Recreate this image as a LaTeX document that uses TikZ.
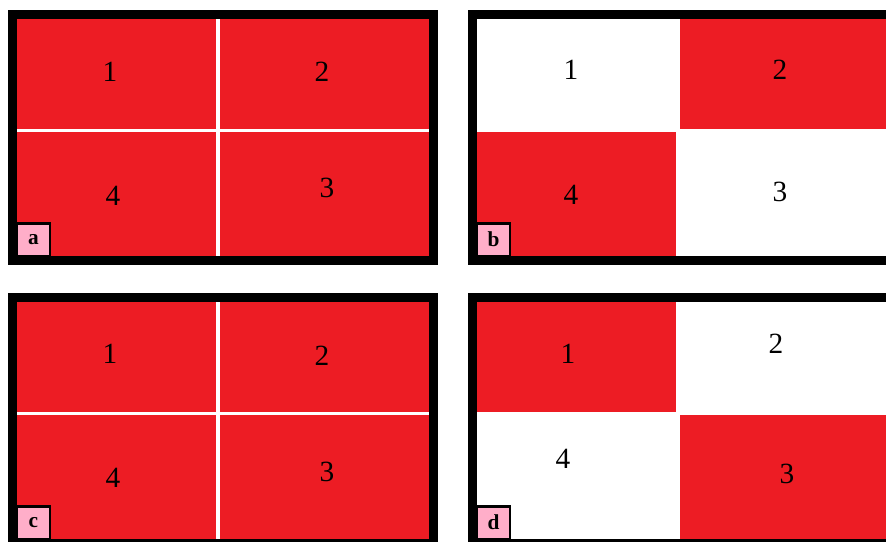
\documentclass[tikz,border=0pt]{standalone}
\usepackage{fontspec}
\setmainfont{Liberation Serif}
\definecolor{cellred}{RGB}{237,28,36}
\definecolor{tagpink}{RGB}{255,174,201}
\tikzset{
  px/.style={x=0.75pt,y=-0.75pt},
  cell/.style={fill=cellred},
  digit/.style={
    font=\fontsize{22}{26}\selectfont,
    inner sep=0pt
  },
  tagbox/.style={
    draw=black,
    line width=2.2pt,
    fill=tagpink,
    minimum size=24.75pt,
    inner sep=0pt,
    anchor=south west,
    font=\fontsize{16}{18}\selectfont\bfseries
  }
}
% #1,#2 = inner top-left corner of a panel
\newcommand{\panelframe}[2]{%
  \fill[black] ({#1-9},{#2-9}) rectangle ({#1+421},{#2+246});
  \fill[white] (#1,#2) rectangle ({#1+412},{#2+237});
}
\newcommand{\redcells}[3]{%
  \foreach \c/\r in {#3}
    \fill[cell] ({#1+\c*203},{#2+\r*113}) rectangle ({#1+199+\c*213},{#2+110+\r*127});
}
\newcommand{\paneltag}[4]{%
  \node[tagbox] (#3) at ({#1-1.5},{#2+238.5}) {#4};
}

\begin{document}
\begin{tikzpicture}[px]
  \useasboundingbox (0,0) rectangle (886,542);
  \clip (0,0) rectangle (886,542);
  % panel a
  \panelframe{17}{19}
  \redcells{17}{19}{0/0,1/0,0/1,1/1}
  \node[digit] (a1) at (110,72) {1};
  \node[digit] (a2) at (322,72) {2};
  \node[digit] (a4) at (113,196) {4};
  \node[digit] (a3) at (327,188) {3};
  \paneltag{17}{19}{taga}{a}
  % panel b
  \panelframe{477}{19}
  \redcells{477}{19}{1/0,0/1}
  \node[digit] (b1) at (571,70) {1};
  \node[digit] (b2) at (780,70) {2};
  \node[digit] (b4) at (571,195) {4};
  \node[digit] (b3) at (780,192) {3};
  \paneltag{477}{19}{tagb}{b}
  % panel c
  \panelframe{17}{302}
  \redcells{17}{302}{0/0,1/0,0/1,1/1}
  \node[digit] (c1) at (110,354) {1};
  \node[digit] (c2) at (322,356) {2};
  \node[digit] (c4) at (113,478) {4};
  \node[digit] (c3) at (327,472) {3};
  \paneltag{17}{302}{tagc}{c}
  % panel d
  \panelframe{477}{302}
  \redcells{477}{302}{0/0,1/1}
  \node[digit] (d1) at (568,354) {1};
  \node[digit] (d2) at (776,344) {2};
  \node[digit] (d4) at (563,459) {4};
  \node[digit] (d3) at (787,474) {3};
  \paneltag{477}{302}{tagd}{d}
\end{tikzpicture}
\end{document}
